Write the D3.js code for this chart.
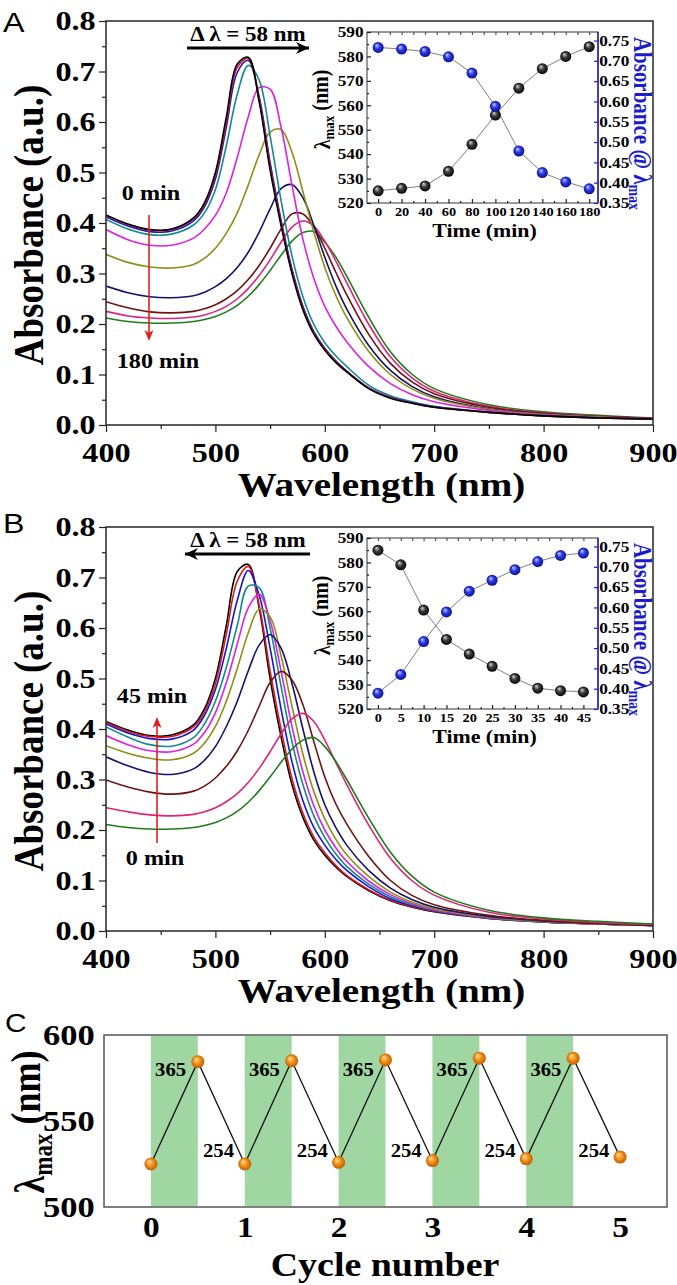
<!DOCTYPE html>
<html>
<head>
<meta charset="utf-8">
<script src="https://cdn.jsdelivr.net/npm/d3@7"></script>
<style>
  body { margin: 0; background: #fff; }
  svg { display: block; }
  text { font-family: "Liberation Serif", "Times New Roman", serif; font-weight: bold; fill: #000; }
  text.letter { font-family: "Liberation Sans", Arial, sans-serif; font-weight: normal; }
</style>
</head>
<body>
<svg id="fig" width="677" height="1285"></svg>
<script>
// ---- data ----
var wavelengths = [400, 420, 440, 460, 480, 490, 500, 510, 520, 530, 540, 550, 560, 570, 580, 590, 600, 610, 620, 640, 660, 680, 700, 750, 800, 850, 900];

// panel A: spectra during 365 nm irradiation (0 ... 180 min)
var specA_000 = [.416,.398,.387,.388,.410,.440,.500,.610,.715,.728,.640,.505,.395,.300,.228,.180,.148,.124,.105,.072,.053,.043,.035,.025,.018,.014,.012];
var specA_020 = [.415,.397,.386,.387,.408,.437,.494,.600,.708,.726,.645,.512,.400,.304,.231,.182,.150,.125,.106,.073,.054,.043,.035,.025,.018,.014,.012];
var specA_040 = [.412,.394,.383,.384,.404,.432,.487,.590,.698,.722,.650,.520,.406,.309,.235,.185,.152,.127,.107,.074,.055,.044,.036,.025,.018,.014,.012];
var specA_060 = [.407,.388,.377,.378,.396,.420,.466,.553,.655,.712,.683,.572,.445,.335,.254,.199,.163,.137,.116,.079,.058,.046,.037,.026,.019,.015,.012];
var specA_080 = [.387,.367,.356,.356,.370,.388,.415,.460,.530,.610,.668,.665,.590,.475,.368,.290,.235,.196,.165,.116,.082,.060,.046,.029,.020,.015,.012];
var specA_100 = [.338,.322,.313,.311,.318,.330,.350,.380,.420,.475,.535,.580,.585,.540,.462,.382,.312,.257,.213,.146,.100,.071,.053,.031,.021,.016,.012];
var specA_120 = [.275,.262,.254,.252,.256,.263,.274,.290,.312,.342,.382,.428,.468,.476,.450,.395,.332,.276,.230,.158,.108,.076,.056,.032,.021,.016,.012];
var specA_140 = [.244,.232,.224,.222,.225,.230,.238,.250,.266,.288,.316,.350,.388,.418,.418,.392,.350,.303,.258,.180,.122,.085,.062,.035,.023,.017,.013];
var specA_160 = [.225,.216,.212,.211,.214,.218,.225,.235,.250,.270,.296,.327,.362,.392,.404,.394,.364,.325,.282,.200,.135,.093,.067,.037,.024,.017,.013];
var specA_180 = [.212,.205,.202,.202,.205,.209,.215,.224,.237,.255,.278,.306,.336,.364,.381,.383,.362,.333,.295,.214,.145,.100,.072,.040,.026,.019,.014];

// panel B: spectra during 254 nm irradiation (0 ... 45 min)
var specB_00 = [.211,.205,.202,.202,.205,.209,.215,.224,.237,.255,.278,.305,.334,.360,.378,.383,.365,.336,.300,.224,.156,.108,.077,.041,.026,.019,.014];
var specB_05 = [.244,.236,.230,.228,.231,.236,.244,.256,.272,.294,.322,.355,.390,.420,.431,.415,.378,.334,.290,.210,.144,.099,.071,.037,.024,.017,.013];
var specB_10 = [.299,.285,.275,.271,.277,.287,.303,.326,.357,.397,.445,.492,.514,.497,.448,.375,.305,.252,.212,.148,.100,.070,.052,.031,.021,.015,.011];
var specB_15 = [.345,.327,.314,.310,.321,.338,.365,.405,.455,.515,.566,.587,.560,.490,.400,.315,.250,.205,.170,.120,.085,.062,.047,.029,.020,.015,.011];
var specB_20 = [.367,.352,.342,.339,.352,.372,.405,.455,.520,.590,.637,.622,.545,.445,.350,.276,.222,.182,.151,.108,.077,.057,.044,.028,.019,.014,.011];
var specB_25 = [.387,.369,.357,.355,.370,.393,.432,.492,.568,.640,.667,.615,.515,.405,.315,.248,.200,.165,.138,.099,.072,.054,.042,.027,.019,.014,.011];
var specB_30 = [.404,.384,.369,.366,.383,.410,.455,.522,.605,.683,.680,.600,.485,.375,.290,.228,.185,.153,.128,.093,.068,.052,.041,.026,.018,.014,.011];
var specB_35 = [.410,.392,.381,.380,.398,.427,.478,.560,.655,.714,.665,.560,.440,.335,.258,.205,.170,.142,.120,.088,.064,.050,.040,.026,.018,.014,.011];
var specB_40 = [.413,.395,.385,.385,.404,.434,.490,.588,.693,.722,.645,.515,.400,.302,.233,.186,.155,.130,.110,.082,.061,.048,.039,.025,.018,.014,.011];
var specB_45 = [.415,.398,.387,.388,.408,.440,.500,.605,.712,.726,.640,.500,.385,.290,.225,.180,.150,.127,.108,.080,.060,.047,.038,.025,.018,.014,.011];

var coloursA = ["#000000", "#e01818", "#1515d8", "#138a8a", "#e020e0", "#8e8e14", "#13136e", "#701313", "#e02278", "#1c7d1c"];
var coloursB = ["#1c7d1c", "#e02278", "#701313", "#13136e", "#8e8e14", "#e020e0", "#138a8a", "#1515d8", "#e01818", "#000000"];

// insets
var timeA = [0, 20, 40, 60, 80, 100, 120, 140, 160, 180];
var lambdaMaxA = [525, 526, 527, 533, 544, 556, 567, 575, 580, 584];
var absMaxA = [0.733, 0.729, 0.723, 0.710, 0.670, 0.588, 0.478, 0.425, 0.402, 0.385];
var timeB = [0, 5, 10, 15, 20, 25, 30, 35, 40, 45];
var lambdaMaxB = [585, 579, 560.5, 548.5, 542.5, 537.5, 532.5, 528.5, 527.5, 527];
var absMaxB = [0.389, 0.435, 0.516, 0.589, 0.640, 0.667, 0.693, 0.713, 0.728, 0.734];

// panel C: switching cycles
var cycleSteps = [0, 0.5, 1, 1.5, 2, 2.5, 3, 3.5, 4, 4.5, 5];
var cycleLambda = [525, 584.5, 525, 585, 526, 585.5, 527, 586.5, 528, 586.5, 529];
var uvBandStart = [0, 1, 2, 3, 4];

var xTicksMain = [400, 500, 600, 700, 800, 900];
var yTicksMain = [0, 0.1, 0.2, 0.3, 0.4, 0.5, 0.6, 0.7, 0.8];

// ---- drawing ----
var svg = d3.select("#fig");
var TX = 1.15; // the lettering in the source figure is a little wide

var defs = svg.append("defs");
function ball(id, c0, c1, c2) {
  var gr = defs.append("radialGradient").attr("id", id)
    .attr("cx", "50%").attr("cy", "50%").attr("r", "55%").attr("fx", "35%").attr("fy", "30%");
  gr.append("stop").attr("offset", "0%").attr("stop-color", c0);
  gr.append("stop").attr("offset", "45%").attr("stop-color", c1);
  gr.append("stop").attr("offset", "100%").attr("stop-color", c2);
}
ball("blackBall", "#d8d8d8", "#3a3a3a", "#000");
ball("blueBall", "#c9d2ff", "#2b3be6", "#0a0a80");
ball("orangeBall", "#ffe2a8", "#f5961c", "#b85500");

function addText(g, x, y, s, size, anchor, rot) {
  var tr = "translate(" + x + "," + y + ")" +
    (rot ? " rotate(" + rot + ") scale(1," + TX + ")" : " scale(" + TX + ",1)");
  var t = g.append("text").attr("transform", tr)
    .attr("text-anchor", anchor || "middle")
    .style("font-size", size + "px");
  if (s != null) t.text(s);
  return t;
}

function styleAxis(ax, size, colour) {
  ax.select(".domain").remove();
  ax.selectAll(".tick line").attr("stroke", colour || "#222").attr("stroke-width", 1.2);
  ax.selectAll(".tick text")
    .attr("transform", "scale(" + TX + ",1)")
    .style("font-size", size + "px")
    .style("font-family", "'Liberation Serif', serif")
    .style("font-weight", "bold")
    .attr("fill", colour || "#000");
}

function spectraPanel(box, series, colours, id) {
  var x = d3.scaleLinear().domain([400, 900]).range([box.left, box.right]);
  var y = d3.scaleLinear().domain([0, 0.8]).range([box.bottom, box.top]);
  var g = svg.append("g");

  defs.append("clipPath").attr("id", id)
    .append("rect").attr("x", box.left).attr("y", box.top)
    .attr("width", box.right - box.left).attr("height", box.bottom - box.top);

  var line = d3.line()
    .x(function(d, i) { return x(wavelengths[i]); })
    .y(function(d) { return y(d); })
    .curve(d3.curveCatmullRom.alpha(0.5));

  var cg = g.append("g").attr("clip-path", "url(#" + id + ")");
  for (var i = series.length - 1; i >= 0; i--) {
    cg.append("path").attr("d", line(series[i]))
      .attr("fill", "none").attr("stroke", colours[i]).attr("stroke-width", 1.6);
  }

  g.append("rect").attr("x", box.left).attr("y", box.top)
    .attr("width", box.right - box.left).attr("height", box.bottom - box.top)
    .attr("fill", "none").attr("stroke", "#333").attr("stroke-width", 1.6);

  var xa = g.append("g").attr("transform", "translate(0," + box.bottom + ")")
    .call(d3.axisBottom(x).tickValues(xTicksMain).tickSize(7).tickPadding(10).tickFormat(d3.format("d")));
  styleAxis(xa, 28);
  var xm = g.append("g").attr("transform", "translate(0," + box.bottom + ")")
    .call(d3.axisBottom(x).tickValues([450, 550, 650, 750, 850]).tickSize(4).tickFormat(""));
  styleAxis(xm, 10);

  var ya = g.append("g").attr("transform", "translate(" + box.left + ",0)")
    .call(d3.axisLeft(y).tickValues(yTicksMain).tickSize(7).tickPadding(2).tickFormat(d3.format(".1f")));
  styleAxis(ya, 28);
  var ym = g.append("g").attr("transform", "translate(" + box.left + ",0)")
    .call(d3.axisLeft(y).tickValues([0.05, 0.15, 0.25, 0.35, 0.45, 0.55, 0.65, 0.75]).tickSize(4).tickFormat(""));
  styleAxis(ym, 10);

  addText(g, (box.left + box.right) / 2 + 2, box.bottom + 71, "Wavelength (nm)", 34);
  addText(g, 43, (box.top + box.bottom) / 2 + 2, "Absorbance (a.u.)", 37, "middle", -90);
  return g;
}

function insetPanel(box, times, lam, absv, xDomain, xTicks, xMinor) {
  var x = d3.scaleLinear().domain(xDomain).range([box.left, box.right]);
  var yL = d3.scaleLinear().domain([520, 590]).range([box.bottom, box.top]);
  var yR = d3.scaleLinear().domain([0.35, 0.771]).range([box.bottom, box.top]);
  var blue = "#1b1bd0";
  var g = svg.append("g");

  g.append("rect").attr("x", box.left).attr("y", box.top)
    .attr("width", box.right - box.left).attr("height", box.bottom - box.top)
    .attr("fill", "none").attr("stroke", "#555").attr("stroke-width", 1.2);
  g.append("line").attr("x1", box.right).attr("x2", box.right).attr("y1", box.top).attr("y2", box.bottom)
    .attr("stroke", blue).attr("stroke-width", 1.4);

  var ax;
  ax = g.append("g").attr("transform", "translate(" + box.left + ",0)")
    .call(d3.axisLeft(yL).tickValues(d3.range(520, 591, 10)).tickSize(-4).tickPadding(3));
  styleAxis(ax, 15);
  ax = g.append("g").attr("transform", "translate(" + box.left + ",0)")
    .call(d3.axisLeft(yL).tickValues(d3.range(525, 590, 10)).tickSize(-2).tickFormat(""));
  styleAxis(ax, 10);
  ax = g.append("g").attr("transform", "translate(" + box.right + ",0)")
    .call(d3.axisRight(yR).tickValues([0.35, 0.40, 0.45, 0.50, 0.55, 0.60, 0.65, 0.70, 0.75]).tickSize(-4).tickPadding(1).tickFormat(d3.format(".2f")));
  styleAxis(ax, 15, blue);
  ax = g.append("g").attr("transform", "translate(0," + box.bottom + ")")
    .call(d3.axisBottom(x).tickValues(xTicks).tickSize(-4).tickPadding(4));
  styleAxis(ax, 12.5);
  ax = g.append("g").attr("transform", "translate(0," + box.bottom + ")")
    .call(d3.axisBottom(x).tickValues(xMinor).tickSize(-2).tickFormat(""));
  styleAxis(ax, 10);
  ax = g.append("g").attr("transform", "translate(0," + box.top + ")")
    .call(d3.axisTop(x).tickValues(xTicks.concat(xMinor)).tickSize(-3).tickFormat(""));
  styleAxis(ax, 10, "#555");

  var l1 = d3.line().x(function(d, i) { return x(times[i]); }).y(function(d) { return yL(d); });
  var l2 = d3.line().x(function(d, i) { return x(times[i]); }).y(function(d) { return yR(d); });
  g.append("path").attr("d", l1(lam)).attr("fill", "none").attr("stroke", "#808080").attr("stroke-width", 1);
  g.append("path").attr("d", l2(absv)).attr("fill", "none").attr("stroke", "#808080").attr("stroke-width", 1);
  g.selectAll(".bk").data(lam).enter().append("circle")
    .attr("cx", function(d, i) { return x(times[i]); }).attr("cy", function(d) { return yL(d); })
    .attr("r", 5.5).attr("fill", "url(#blackBall)");
  g.selectAll(".bl").data(absv).enter().append("circle")
    .attr("cx", function(d, i) { return x(times[i]); }).attr("cy", function(d) { return yR(d); })
    .attr("r", 5.5).attr("fill", "url(#blueBall)");

  addText(g, (box.left + box.right) / 2 + 2, box.bottom + 34, "Time (min)", 19);

  var tl = addText(g, box.left - 37, (box.top + box.bottom) / 2 - 8, null, 20, "middle", -90);
  tl.append("tspan").text("λ");
  tl.append("tspan").text("max").style("font-size", "13px").attr("dy", "0.3em");
  tl.append("tspan").text(" (nm)").attr("dy", "-0.3em");

  var tr = addText(g, box.right + 36, (box.top + box.bottom) / 2 + 6, null, 21, "middle", 90);
  tr.attr("fill", blue).style("fill", blue);
  tr.append("tspan").text("Absorbance @ λ");
  tr.append("tspan").text("max").style("font-size", "14px").attr("dy", "0.3em");
  return g;
}

function shiftArrow(g, x1, x2, y, dir) {
  g.append("line").attr("x1", x1).attr("x2", x2).attr("y1", y).attr("y2", y)
    .attr("stroke", "#000").attr("stroke-width", 3);
  var tip = dir > 0 ? x2 : x1;
  g.append("path")
    .attr("d", "M" + tip + "," + y + "L" + (tip - dir * 13) + "," + (y - 6) + "L" + (tip - dir * 9) + "," + y + "L" + (tip - dir * 13) + "," + (y + 6) + "Z")
    .attr("fill", "#000");
}
function redArrow(g, x, y1, y2) {
  var red = "#e0201c";
  var dir = y2 > y1 ? 1 : -1;
  g.append("line").attr("x1", x).attr("x2", x).attr("y1", y1).attr("y2", y2 - dir * 6)
    .attr("stroke", red).attr("stroke-width", 1.6);
  g.append("path")
    .attr("d", "M" + x + "," + y2 + "L" + (x - 4.5) + "," + (y2 - dir * 11) + "L" + x + "," + (y2 - dir * 8) + "L" + (x + 4.5) + "," + (y2 - dir * 11) + "Z")
    .attr("fill", red);
}

// panel A
var boxA = { left: 106, right: 653, top: 21, bottom: 425 };
var gA = spectraPanel(boxA,
  [specA_000, specA_020, specA_040, specA_060, specA_080, specA_100, specA_120, specA_140, specA_160, specA_180],
  coloursA, "clipA");
insetPanel({ left: 367, right: 598, top: 32, bottom: 203 }, timeA, lambdaMaxA, absMaxA,
  [-9.5, 187.5], d3.range(0, 181, 20), d3.range(10, 181, 20));
addText(gA, 3, 32, "A", 28, "start").attr("class", "letter");
addText(gA, 248, 41, "Δ λ = 58 nm", 20);
shiftArrow(gA, 187, 309, 48, 1);
addText(gA, 151, 200, "0 min", 21);
redArrow(gA, 149, 215, 341);
addText(gA, 158, 368, "180 min", 21);

// panel B
var boxB = { left: 106, right: 653, top: 527, bottom: 931 };
var gB = spectraPanel(boxB,
  [specB_00, specB_05, specB_10, specB_15, specB_20, specB_25, specB_30, specB_35, specB_40, specB_45],
  coloursB, "clipB");
insetPanel({ left: 367, right: 598, top: 538, bottom: 709 }, timeB, lambdaMaxB, absMaxB,
  [-2.4, 48.2], d3.range(0, 46, 5), d3.range(2.5, 46, 5));
addText(gB, 3, 533, "B", 28, "start").attr("class", "letter");
addText(gB, 248, 547, "Δ λ = 58 nm", 20);
shiftArrow(gB, 185, 310, 554, -1);
addText(gB, 152, 703, "45 min", 21);
redArrow(gB, 157, 843, 717);
addText(gB, 155, 865, "0 min", 21);

// panel C
(function() {
  var box = { left: 104, right: 667, top: 1035, bottom: 1207 };
  var x = d3.scaleLinear().domain([-0.5, 5.5]).range([box.left, box.right]);
  var y = d3.scaleLinear().domain([500, 600]).range([box.bottom, box.top]);
  var g = svg.append("g");

  g.selectAll(".band").data(uvBandStart).enter().append("rect")
    .attr("x", function(d) { return x(d); }).attr("width", function(d) { return x(d + 0.5) - x(d); })
    .attr("y", box.top + 1).attr("height", box.bottom - box.top - 2)
    .attr("fill", "#a0d6a2");

  g.append("rect").attr("x", box.left).attr("y", box.top)
    .attr("width", box.right - box.left).attr("height", box.bottom - box.top)
    .attr("fill", "none").attr("stroke", "#555").attr("stroke-width", 1.5);

  var ax = g.append("g").attr("transform", "translate(0," + box.bottom + ")")
    .call(d3.axisBottom(x).tickValues([0, 1, 2, 3, 4, 5]).tickSize(0).tickPadding(9).tickFormat(d3.format("d")));
  styleAxis(ax, 29);
  ax = g.append("g").attr("transform", "translate(" + box.left + ",0)")
    .call(d3.axisLeft(y).tickValues([500, 550, 600]).tickSize(0).tickPadding(8));
  styleAxis(ax, 30);

  var line = d3.line().x(function(d, i) { return x(cycleSteps[i]); }).y(function(d) { return y(d); });
  g.append("path").attr("d", line(cycleLambda)).attr("fill", "none").attr("stroke", "#111").attr("stroke-width", 1.3);
  g.selectAll(".pt").data(cycleLambda).enter().append("circle")
    .attr("cx", function(d, i) { return x(cycleSteps[i]); }).attr("cy", function(d) { return y(d); })
    .attr("r", 6.5).attr("fill", "url(#orangeBall)");

  uvBandStart.forEach(function(b) {
    addText(g, x(b + 0.21), 1076, "365", 18);
    addText(g, x(b + 0.72), 1157, "254", 18);
  });

  addText(g, 385, 1276, "Cycle number", 33);
  var t = addText(g, 44, 1122, null, 36, "middle", -90);
  t.append("tspan").text("λ");
  t.append("tspan").text("max").style("font-size", "23px").attr("dy", "0.3em");
  t.append("tspan").text(" (nm)").attr("dy", "-0.3em");
  addText(g, 5, 1032, "C", 26, "start").attr("class", "letter");
})();
</script>
</body>
</html>
